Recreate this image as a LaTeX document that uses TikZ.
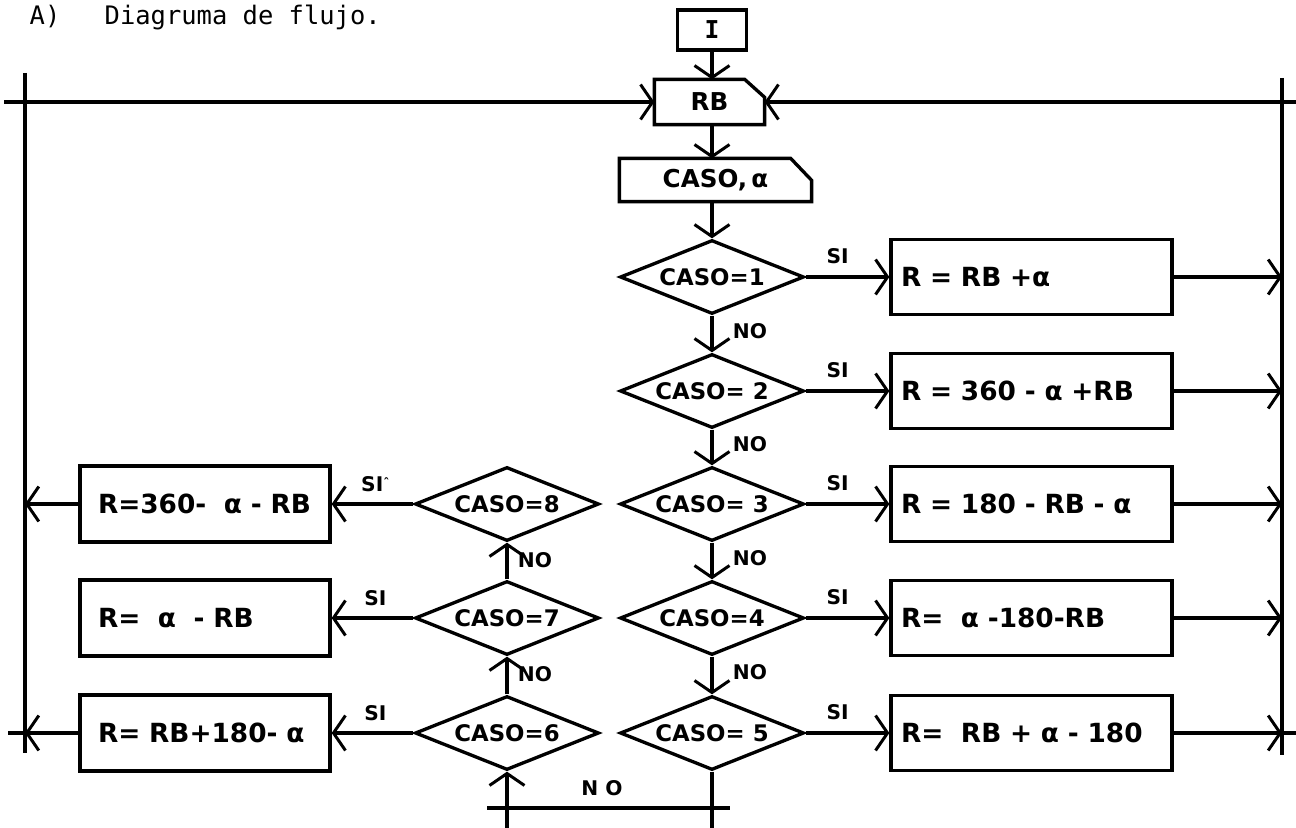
\documentclass[tikz,border=0pt]{standalone}
\usepackage{fontspec}
\setmainfont{DejaVu Sans}
\newfontfamily\monofont{DejaVu Sans Mono}
\usetikzlibrary{arrows.meta,shapes.geometric,calc}
\begin{document}
\begin{tikzpicture}[x=0.02cm,y=-0.02cm,line width=1.9pt,
  every node/.style={inner sep=0pt},
  arr/.style={-{Straight Barb[length=2.4mm,width=7mm,line width=1.7pt]}},
  dec/.style={diamond,draw,aspect=2.49,minimum width=3.68cm,minimum height=1.48cm,
    font=\bfseries\fontsize{13}{15}\selectfont},
  rbox/.style={draw,text width=5.22cm,align=left,inner xsep=0.2cm,minimum height=1.5cm,
    font=\bfseries\fontsize{15}{17}\selectfont},
  lbox/.style={draw,text width=4.28cm,align=left,inner xsep=0.36cm,minimum height=1.52cm,
    font=\bfseries\fontsize{15}{17}\selectfont},
  lab/.style={font=\bfseries\fontsize{11.5}{13}\selectfont},
  ttl/.style={anchor=west,font=\monofont\fontsize{14.5}{16}\selectfont}]
\useasboundingbox (0,0) rectangle (1296,828);
\fill[white] (0,0) rectangle (1296,828);

% title
\node[ttl] (ta) at (28,17) {A)};
\node[ttl] (tt) at (103,17) {Diagruma de flujo.};

% start, input boxes
\node[draw,minimum width=1.38cm,minimum height=0.8cm,
  font=\monofont\bfseries\fontsize{14}{16}\selectfont] (I) at (712,30) {I};
\node[minimum width=2.14cm,minimum height=0.84cm,
  font=\bfseries\fontsize{14}{16}\selectfont] (RB) at (709.5,102) {RB};
\draw (RB.south west) -- (RB.north west) -- ($(RB.north east)+(-20,0)$)
  -- ($(RB.north east)+(0,18)$) -- (RB.south east) -- cycle;
\node[minimum width=3.78cm,minimum height=0.8cm,
  font=\bfseries\fontsize{14}{16}\selectfont] (C) at (715.5,180) {CASO,\,α};
\draw (C.south west) -- (C.north west) -- ($(C.north east)+(-21,0)$)
  -- ($(C.north east)+(0,22)$) -- (C.south east) -- cycle;

% decisions, right column
\node[dec] (D1) at (712,277) {CASO=1};
\node[dec] (D2) at (712,391) {CASO= 2};
\node[dec] (D3) at (712,504) {CASO= 3};
\node[dec] (D4) at (712,618) {CASO=4};
\node[dec] (D5) at (712,733) {CASO= 5};
% decisions, left column
\node[dec] (D8) at (507,504) {CASO=8};
\node[dec] (D7) at (507,618) {CASO=7};
\node[dec] (D6) at (507,733) {CASO=6};

% result boxes right
\node[rbox] (R1) at (1031.5,277) {R = RB +α};
\node[rbox] (R2) at (1031.5,391) {R = 360 - α +RB};
\node[rbox] (R3) at (1031.5,504) {R = 180 - RB - α};
\node[rbox] (R4) at (1031.5,618) {R= \ α -180-RB};
\node[rbox] (R5) at (1031.5,733) {R= \ RB + α - 180};
% result boxes left
\node[lbox] (L8) at (205,504) {R=360- \ α - RB};
\node[lbox] (L7) at (205,618) {R= \ α \ - RB};
\node[lbox] (L6) at (205,733) {R= RB+180- α};

% frame lines
\coordinate (lt) at (25,73);
\coordinate (lb) at (25,753);
\coordinate (rt) at (1282,78);
\coordinate (rb) at (1282,755);
\coordinate (hl) at (4,102);
\coordinate (hr) at (1296,102);
\coordinate (le) at (8,733);
\draw (lt) -- (lb);
\draw (rt) -- (rb);
\draw[arr] (hl) -- (RB.west);
\draw[arr] (hr) -- (RB.east);

% main flow
\draw[arr] (I.south) -- (I.south |- RB.north);
\draw[arr] (I.south |- RB.south) -- (I.south |- C.north);
\draw[arr] (I.south |- C.south) -- (D1.north);
\draw[arr] (D1.south) -- (D2.north);
\draw[arr] (D2.south) -- (D3.north);
\draw[arr] (D3.south) -- (D4.north);
\draw[arr] (D4.south) -- (D5.north);
\draw[arr] (D6.north) -- (D7.south);
\draw[arr] (D7.north) -- (D8.south);

% SI branches right
\foreach \d/\r in {D1/R1,D2/R2,D3/R3,D4/R4,D5/R5}{
  \draw[arr] (\d.east) -- (\r.west);
  \draw[arr] (\r.east) -- (\r.east -| rt);
  \node[lab] at ($(\d.east)+(32,-21)$) {SI};
}
\draw (R5.east -| rt) -- (R5.east -| hr);
% SI branches left
\foreach \d/\l in {D8/L8,D7/L7,D6/L6}{
  \draw[arr] (\d.west) -- (\l.east);
}
\node[lab] at ($(D8.west)+(-38,-20)$) {SI\raisebox{0.35ex}{\fontsize{7}{7}\selectfont ˆ}};
\node[lab] at ($(D7.west)+(-38,-20)$) {SI};
\node[lab] at ($(D6.west)+(-38,-20)$) {SI};
\draw[arr] (L8.west) -- (L8.west -| lt);
\draw[arr] (L6.west) -- (L6.west -| lt);
\draw (L6.west -| lt) -- (le);

% NO labels
\node[lab] at ($(D1.south)!0.5!(D2.north)+(38,-3)$) {NO};
\node[lab] at ($(D2.south)!0.5!(D3.north)+(38,-3)$) {NO};
\node[lab] at ($(D3.south)!0.5!(D4.north)+(38,-3)$) {NO};
\node[lab] at ($(D4.south)!0.5!(D5.north)+(38,-3)$) {NO};
\node[lab] at ($(D8.south)!0.5!(D7.north)+(28,-1)$) {NO};
\node[lab] at ($(D7.south)!0.5!(D6.north)+(28,-1)$) {NO};

% bottom NO connection
\coordinate (b5) at (712,828);
\coordinate (b6) at (507,828);
\coordinate (nl) at (487,808);
\coordinate (nr) at (730,808);
\draw (D5.south) -- (b5);
\draw[arr] (b6) -- (D6.south);
\draw (nl) -- (nr);
\node[lab] at (602,788) {N O};
\end{tikzpicture}
\end{document}
